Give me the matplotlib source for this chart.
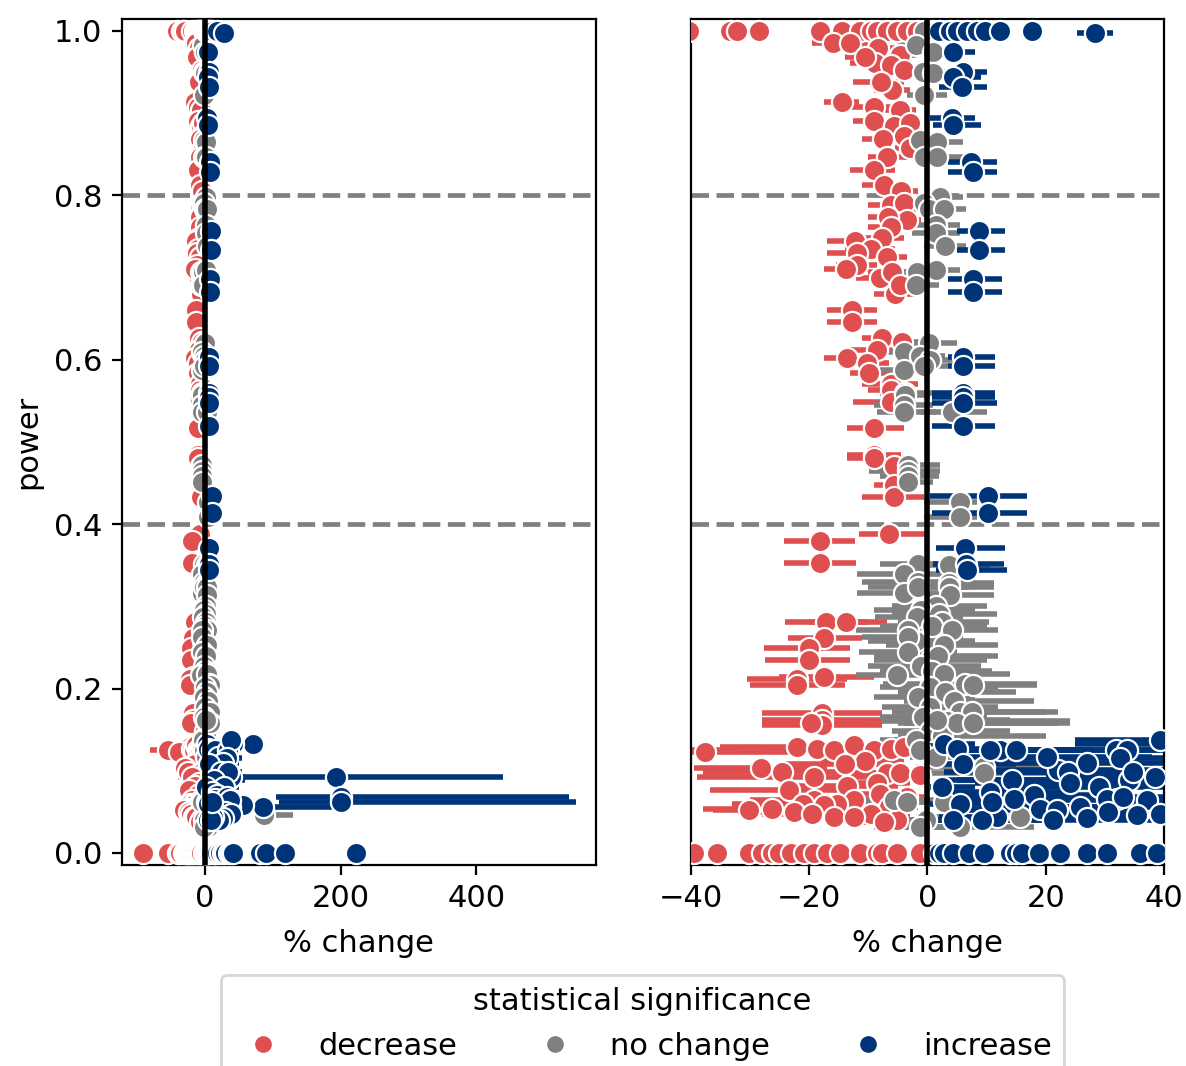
import numpy as np
import matplotlib
matplotlib.use("Agg")
import matplotlib.pyplot as plt
from matplotlib.lines import Line2D

plt.rcParams['font.family'] = ['DejaVu Sans']
plt.rcParams['font.size'] = 11

# ================= data =================
# (power, % change, ci low, ci high); rows at power 0 / 1 have no interval
decrease = [
    (1.0, -40.3, -40.3, -40.3), (1.0, -33.4, -33.4, -33.4), (1.0, -32.1, -32.1, -32.1),
    (1.0, -28.5, -28.5, -28.5), (1.0, -18.1, -18.1, -18.1), (1.0, -14.4, -14.4, -14.4),
    (1.0, -11.3, -11.3, -11.3), (1.0, -9.6, -9.6, -9.6), (1.0, -8.5, -8.5, -8.5),
    (1.0, -6.8, -6.8, -6.8), (1.0, -5.1, -5.1, -5.1), (1.0, -3.4, -3.4, -3.4),
    (1.0, -1.7, -1.7, -1.7),
    (0.985, -16.0, -19.5, -12.5), (0.985, -13.0, -16.0, -10.0), (0.979, -8.3, -12.0, -5.0),
    (0.971, -4.6, -7.0, -2.0), (0.961, -8.8, -13.0, -5.0), (0.959, -6.2, -9.0, -3.5),
    (0.968, -10.5, -14.0, -7.0), (0.952, -4.0, -7.0, -1.5), (0.928, -6.0, -9.0, -3.0),
    (0.938, -7.9, -12.5, -4.0), (0.914, -14.4, -17.5, -11.5), (0.908, -9.1, -13.0, -6.0),
    (0.904, -4.6, -7.5, -2.0), (0.890, -9.1, -12.5, -6.0), (0.884, -5.7, -9.0, -3.0),
    (0.888, -2.9, -5.0, -1.0), (0.872, -4.0, -7.0, -1.5), (0.868, -7.5, -11.0, -4.0),
    (0.858, -3.0, -5.5, -0.8), (0.847, -6.8, -10.0, -3.5), (0.831, -9.1, -13.0, -5.5),
    (0.813, -7.4, -11.0, -4.0), (0.805, -4.5, -8.0, -1.5), (0.788, -6.2, -10.0, -3.0),
    (0.791, -4.0, -7.0, -1.5), (0.770, -3.5, -6.5, -1.0),
    (0.774, -6.6, -10.0, -3.5), (0.762, -6.2, -10.0, -3.0), (0.748, -7.6, -11.0, -4.0),
    (0.744, -12.2, -17.0, -8.0), (0.735, -9.5, -14.0, -5.5), (0.730, -11.9, -17.0, -7.5),
    (0.725, -6.8, -10.0, -3.5), (0.700, -8.0, -12.0, -4.0), (0.680, -5.5, -9.0, -2.0),
    (0.715, -11.9, -15.5, -8.5), (0.711, -13.8, -17.5, -10.0), (0.707, -6.0, -10.0, -2.5),
    (0.691, -4.6, -8.0, -1.5), (0.661, -12.7, -17.0, -8.5), (0.646, -12.7, -17.0, -8.5),
    (0.626, -7.6, -11.0, -4.0), (0.622, -4.3, -8.0, -1.0), (0.612, -8.5, -13.0, -4.5),
    (0.602, -13.6, -17.5, -9.5), (0.596, -10.2, -14.0, -6.5), (0.584, -9.9, -13.0, -6.5),
    (0.571, -6.2, -11.0, -1.5), (0.563, -6.2, -10.0, -2.5), (0.549, -6.2, -12.5, -2.0),
    (0.517, -9.0, -13.6, -4.0), (0.484, -9.1, -13.5, -4.5), (0.480, -9.1, -13.5, -4.5),
    (0.471, -5.7, -10.0, -2.0), (0.448, -5.7, -9.0, -2.0), (0.433, -5.7, -11.0, -0.5),
    (0.388, -6.4, -11.6, -0.3), (0.380, -18.1, -24.3, -12.2), (0.353, -18.1, -24.3, -12.0),
    (0.281, -17.2, -24.0, -10.0), (0.281, -13.8, -20.0, -6.8), (0.261, -17.5, -23.5, -11.0),
    (0.249, -20.0, -27.6, -13.0), (0.235, -20.0, -27.5, -13.0), (0.214, -17.5, -25.0, -9.0),
    (0.212, -22.0, -30.4, -13.6), (0.204, -22.0, -30.0, -14.0), (0.170, -17.8, -27.9, -7.6),
    (0.162, -17.8, -28.0, -7.6), (0.156, -17.8, -27.9, -7.6), (0.158, -19.6, -28.0, -10.0),
    (0.125, -54.0, -81.0, -32.0), (0.129, -22.0, -35.0, -10.0), (0.123, -37.5, -60.0, -7.3),
    (0.127, -18.6, -28.0, -9.0), (0.125, -15.8, -25.0, -6.0), (0.131, -12.4, -20.0, -4.0),
    (0.125, -9.1, -15.0, -3.0), (0.127, -6.2, -12.0, -1.0), (0.129, -4.0, -9.0, -0.5),
    (0.112, -10.5, -18.0, -4.0), (0.108, -14.0, -24.0, -6.0),
    (0.103, -28.2, -39.4, -16.9), (0.099, -24.5, -38.0, -12.0), (0.097, -6.8, -12.0, -2.0),
    (0.097, -4.6, -10.0, -1.0), (0.095, -1.2, -4.0, -0.3), (0.093, -19.2, -39.0, -7.3),
    (0.085, -8.5, -14.0, -3.0), (0.082, -13.5, -24.0, -5.0), (0.077, -23.4, -36.8, -12.4),
    (0.072, -8.0, -14.0, -2.5), (0.068, -3.4, -7.0, -0.5),
    (0.064, -12.4, -20.0, -5.0), (0.064, -19.2, -30.0, -9.0), (0.060, -21.1, -33.0, -10.0),
    (0.060, -15.2, -25.0, -6.0), (0.058, -17.5, -28.0, -8.0), (0.056, -6.5, -12.0, -1.5),
    (0.054, -26.2, -38.0, -15.0),
    (0.052, -30.2, -36.3, -24.0), (0.050, -22.6, -32.0, -13.0), (0.048, -9.6, -16.0, -3.0),
    (0.047, -19.5, -28.0, -10.0),
    (0.044, -15.8, -22.0, -9.0), (0.044, -12.4, -19.0, -6.0), (0.040, -5.1, -10.0, -1.0),
    (0.038, -7.4, -13.0, -2.0),
    (0.0, -91.0, -91.0, -91.0), (0.0, -54.0, -54.0, -54.0), (0.0, -39.4, -39.4, -39.4),
    (0.0, -35.5, -35.5, -35.5), (0.0, -30.2, -30.2, -30.2), (0.0, -27.9, -27.9, -27.9),
    (0.0, -26.2, -26.2, -26.2), (0.0, -25.1, -25.1, -25.1), (0.0, -23.1, -23.1, -23.1),
    (0.0, -20.9, -20.9, -20.9), (0.0, -19.2, -19.2, -19.2), (0.0, -16.9, -16.9, -16.9),
    (0.0, -14.7, -14.7, -14.7), (0.0, -11.3, -11.3, -11.3), (0.0, -8.5, -8.5, -8.5),
    (0.0, -7.6, -7.6, -7.6), (0.0, -5.1, -5.1, -5.1), (0.0, -1.2, -1.2, -1.2),
]

no_change = [
    (1.0, 1.0, 1.0, 1.0), (1.0, -0.5, -0.5, -0.5),
    (0.983, -2.0, -5.0, 1.0), (0.975, 1.0, -2.0, 4.0), (0.950, -0.7, -5.0, 3.0),
    (0.949, 1.0, -3.0, 5.0), (0.922, -0.5, -3.4, 3.3), (0.867, -1.2, -5.0, 2.5),
    (0.865, 1.6, -5.1, 6.1), (0.847, -0.6, -4.0, 3.0), (0.847, 1.6, -2.0, 6.0),
    (0.798, 2.2, -1.5, 6.0), (0.791, -0.6, -4.5, 3.5), (0.784, 0.2, -3.0, 3.5),
    (0.784, 2.8, -1.0, 6.5), (0.764, 1.4, -2.6, 5.6), (0.754, 1.4, -2.6, 5.6),
    (0.738, 3.0, -0.5, 6.5), (0.707, -1.7, -5.5, 2.5), (0.709, 1.4, -2.0, 5.6),
    (0.691, -2.0, -6.0, 2.0), (0.620, 0.2, -3.0, 5.0), (0.610, -4.0, -8.0, 0.5),
    (0.604, -1.2, -5.0, 3.0), (0.600, 0.5, -3.5, 4.5), (0.588, -4.0, -8.0, 0.5),
    (0.592, -0.6, -4.5, 3.5), (0.559, -3.7, -8.0, 1.0), (0.557, -3.7, -7.5, 0.5),
    (0.545, -4.0, -9.0, 1.0), (0.537, -4.0, -8.5, 1.5), (0.537, 4.2, -1.0, 10.1),
    (0.472, -3.2, -8.0, 2.2), (0.465, -3.2, -9.9, 2.2), (0.459, -3.2, -8.0, 2.0),
    (0.451, -3.2, -7.0, 1.0), (0.427, 5.6, -0.5, 8.4), (0.409, 5.6, -0.5, 8.4),
    (0.352, -1.5, -8.0, 5.0), (0.350, 3.6, -2.0, 10.6), (0.340, -4.0, -11.9, 3.0),
    (0.330, -1.5, -11.0, 8.0), (0.328, 3.6, -5.0, 11.2), (0.316, -4.0, -11.9, 4.0),
    (0.324, -1.5, -10.0, 7.0), (0.324, 3.6, -4.0, 11.2), (0.314, 3.9, -4.0, 11.2),
    (0.300, 1.5, -6.0, 10.0), (0.296, -1.0, -9.0, 8.0),
    (0.291, 1.9, -6.0, 11.8), (0.287, -1.7, -8.8, 6.0), (0.281, 2.5, -5.0, 10.5),
    (0.276, 0.8, -8.0, 10.0), (0.258, -2.0, -10.0, 8.0),
    (0.271, 4.2, -3.0, 12.0), (0.271, -3.2, -12.0, 5.0), (0.263, -3.2, -11.0, 6.0),
    (0.253, 2.8, -7.0, 12.0), (0.245, -3.2, -11.5, 5.0), (0.235, 0.5, -9.0, 10.0),
    (0.240, 1.8, -9.0, 12.0), (0.228, -1.0, -10.0, 9.0), (0.222, 0.8, -8.0, 11.0),
    (0.217, -5.1, -12.0, 3.0), (0.218, 2.8, -8.0, 14.0), (0.206, 6.4, -7.5, 18.5),
    (0.204, 7.8, -5.0, 18.5), (0.202, 0.5, -8.0, 12.0), (0.196, 3.0, -5.0, 15.0),
    (0.190, -1.5, -9.0, 8.0), (0.185, 4.5, -4.0, 18.0), (0.178, 0.5, -7.6, 12.0),
    (0.172, 5.6, -6.0, 20.0), (0.172, 7.5, -4.0, 22.0), (0.160, 3.3, -7.6, 24.1),
    (0.166, -0.8, -8.0, 10.0), (0.148, 0.5, -6.0, 14.0), (0.142, 2.5, -5.0, 20.0),
    (0.137, -2.0, -8.0, 6.0),
    (0.158, 5.0, -5.0, 22.0), (0.158, 7.8, -4.0, 24.1), (0.162, 1.7, -6.0, 14.0),
    (0.125, -1.2, -5.0, 3.0), (0.117, 1.4, -3.0, 6.0), (0.105, 9.5, -2.0, 24.0),
    (0.097, 9.5, -3.0, 26.0), (0.064, -5.7, -12.0, 2.0), (0.062, -3.4, -10.0, 4.0),
    (0.062, 2.8, -4.0, 10.0), (0.040, -0.3, -16.4, 15.0), (0.044, 15.7, -2.0, 33.7),
    (0.032, 5.6, -6.0, 18.0), (0.032, -1.2, -9.0, 3.0), (0.046, 88.0, 71.0, 130.0),
]

increase = [
    (1.0, 2.0, 2.0, 2.0), (1.0, 3.9, 3.9, 3.9), (1.0, 5.0, 5.0, 5.0), (1.0, 6.7, 6.7, 6.7),
    (1.0, 8.4, 8.4, 8.4), (1.0, 9.8, 9.8, 9.8), (1.0, 12.3, 12.3, 12.3),
    (1.0, 17.7, 17.7, 17.7), (0.998, 28.4, 25.3, 31.4),
    (0.975, 4.4, 1.0, 8.0), (0.950, 6.1, 3.5, 10.0), (0.944, 4.4, 1.5, 9.0),
    (0.932, 5.9, 2.0, 10.0), (0.894, 4.2, 0.5, 8.0), (0.886, 4.4, 1.0, 9.0),
    (0.841, 7.3, 3.5, 11.8), (0.829, 7.8, 3.5, 11.8), (0.757, 8.7, 5.0, 13.2),
    (0.734, 8.7, 5.0, 13.2), (0.698, 7.8, 3.5, 12.6), (0.683, 7.8, 3.5, 12.6),
    (0.603, 6.1, 3.5, 11.5), (0.592, 6.1, 3.5, 11.5), (0.559, 6.1, 0.8, 11.5),
    (0.555, 6.1, 0.8, 11.5), (0.548, 6.1, 0.8, 11.8), (0.519, 6.1, 0.8, 11.5),
    (0.434, 10.3, 0.5, 16.8), (0.414, 10.3, 0.8, 16.8), (0.371, 6.4, 1.4, 13.2),
    (0.352, 6.5, 1.0, 13.0), (0.344, 6.7, 1.5, 13.5),
    (0.133, 71.0, 55.0, 88.0), (0.133, 41.7, 25.0, 60.0), (0.125, 12.3, 3.0, 22.0),
    (0.125, 31.9, 20.0, 50.0), (0.093, 193.6, 49.0, 439.0), (0.089, 34.0, 5.0, 60.0),
    (0.068, 201.0, 105.0, 537.0), (0.062, 201.0, 110.0, 546.0), (0.056, 86.0, 51.5, 188.0),
    (0.058, 56.0, 35.0, 80.0), (0.056, 37.0, 20.0, 60.0), (0.101, 22.0, 8.0, 45.0),
    (0.066, 32.0, 15.0, 50.0), (0.133, 2.8, 0.5, 8.0), (0.127, 5.0, 1.0, 12.0),
    (0.125, 10.6, 2.0, 20.0), (0.125, 14.9, 3.0, 28.0), (0.117, 20.2, 5.0, 38.0),
    (0.125, 33.7, 20.0, 50.0), (0.137, 39.3, 25.0, 55.0), (0.115, 32.6, 12.0, 55.0),
    (0.110, 27.0, 8.0, 50.0), (0.108, 6.0, 1.0, 15.0), (0.092, 38.5, 20.0, 60.0),
    (0.099, 23.8, 2.8, 45.0), (0.085, 24.1, 8.0, 42.0), (0.099, 34.8, 15.0, 55.0),
    (0.089, 14.3, 2.0, 30.0), (0.080, 29.0, 10.0, 50.0), (0.080, 2.5, 0.5, 8.0),
    (0.074, 10.6, 1.5, 25.0), (0.070, 18.0, 4.0, 35.0), (0.066, 14.6, 3.0, 30.0),
    (0.054, 19.1, 5.0, 36.0), (0.052, 21.9, 6.0, 40.0), (0.056, 25.8, 10.0, 45.0),
    (0.066, 30.3, 12.0, 50.0), (0.068, 33.1, 15.0, 52.0), (0.064, 37.1, 20.0, 55.0),
    (0.050, 30.5, 14.0, 48.0), (0.046, 35.5, 18.0, 55.0),
    (0.048, 39.3, 22.0, 58.0), (0.042, 27.0, 10.0, 45.0), (0.040, 21.3, 5.0, 40.0),
    (0.044, 11.8, 2.0, 25.0), (0.060, 5.6, 0.5, 14.0), (0.040, 4.4, 0.5, 10.0),
    (0.040, 9.2, 1.0, 20.0), (0.062, 10.9, 2.0, 22.0),
    (0.0, 1.1, 1.1, 1.1), (0.0, 1.9, 1.9, 1.9), (0.0, 2.8, 2.8, 2.8), (0.0, 4.4, 4.4, 4.4),
    (0.0, 7.0, 7.0, 7.0), (0.0, 9.5, 9.5, 9.5), (0.0, 14.0, 14.0, 14.0),
    (0.0, 14.9, 14.9, 14.9), (0.0, 16.0, 16.0, 16.0), (0.0, 18.8, 18.8, 18.8),
    (0.0, 22.4, 22.4, 22.4), (0.0, 27.0, 27.0, 27.0), (0.0, 30.3, 30.3, 30.3),
    (0.0, 35.9, 35.9, 35.9), (0.0, 38.8, 38.8, 38.8), (0.0, 42.0, 42.0, 42.0),
    (0.0, 81.0, 81.0, 81.0), (0.0, 91.0, 91.0, 91.0), (0.0, 118.0, 118.0, 118.0),
    (0.0, 223.0, 223.0, 223.0),
]

groups = ["decrease", "no change", "increase"]
colors = {"decrease": "#e04f4f", "no change": "#808080", "increase": "#003478"}
data = {"decrease": decrease, "no change": no_change, "increase": increase}

power_lines = [0.4, 0.8]

# ================= plot =================
W, H = 1186, 1066
fig = plt.figure(figsize=(W / 200, H / 200), dpi=200)
bottom = 1 - 865 / H
height = (865 - 19.3) / H
ax_left = fig.add_axes([121.7 / W, bottom, (596 - 121.7) / W, height])
ax_right = fig.add_axes([690.7 / W, bottom, (1164 - 690.7) / W, height], sharey=ax_left)
axes = [ax_left, ax_right]

for ax in axes:
    for g in groups:
        arr = np.array(data[g])
        ax.hlines(arr[:, 0], arr[:, 2], arr[:, 3], color=colors[g], lw=2.0, zorder=2)
    for g in groups:
        arr = np.array(data[g])
        ax.scatter(arr[:, 1], arr[:, 0], s=58, color=colors[g],
                   edgecolor="white", linewidth=0.8, zorder=3)
    for yv in power_lines:
        ax.axhline(yv, color="grey", ls="--", lw=1.7, zorder=2.5)
    ax.axvline(0, color="black", lw=2.0, zorder=4)
    ax.set_xlabel("% change", labelpad=5.5)

ax_left.set_xlim(-122, 576)
ax_left.set_xticks([0, 200, 400])
ax_right.set_xlim(-40, 40)
ax_right.set_xticks([-40, -20, 0, 20, 40])
ax_left.set_ylim(-0.0146, 1.0142)
ax_left.set_yticks([0.0, 0.2, 0.4, 0.6, 0.8, 1.0])
ax_left.set_ylabel("power")
ax_right.tick_params(axis="y", left=False, labelleft=False)

handles = [Line2D([], [], marker="o", ls="", color=colors[g], markersize=5) for g in groups]
fig.legend(handles, groups, title="statistical significance", ncol=3,
           loc="upper center", bbox_to_anchor=(0.5415, 0.0995), columnspacing=2.2)

plt.savefig("out.png", dpi=200)
